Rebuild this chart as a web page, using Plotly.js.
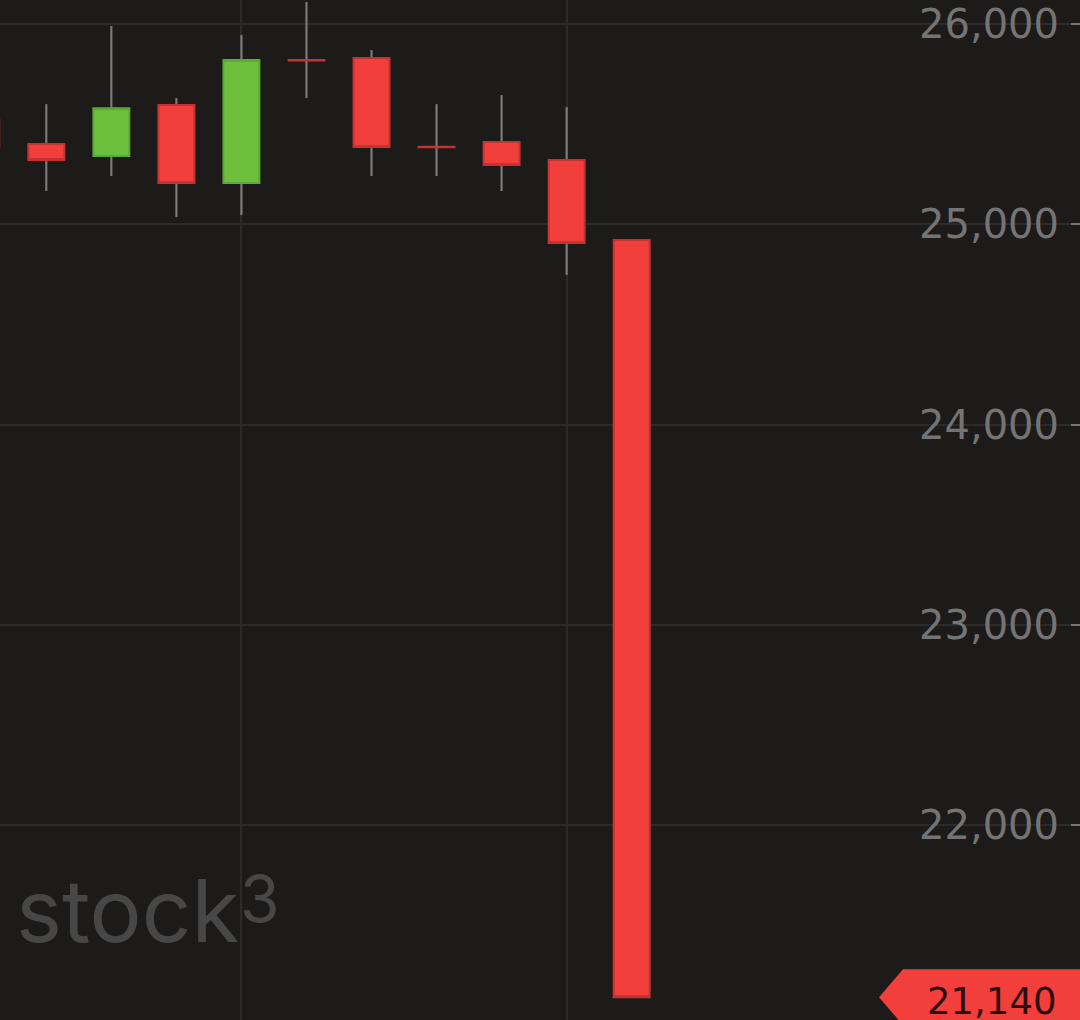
<!DOCTYPE html>
<html>
<head>
<meta charset="utf-8">
<script src="https://cdn.plot.ly/plotly-3.0.1.min.js"></script>
<style>
  html, body { margin: 0; padding: 0; background: #1c1b1a; }
  #chart { width: 1080px; height: 1020px; }
</style>
</head>
<body>
<div id="chart"></div>
<script>
// Candle index (time order)
const candleIndex = [0, 1, 2, 3, 4, 5, 6, 7, 8, 9, 10];
const openValues  = [25521, 25401, 25341, 25595, 25206, 25820, 25830, 25387, 25411, 25321, 24921];
const highValues  = [25560, 25600, 25990, 25630, 25945, 26110, 25870, 25600, 25645, 25585, 24921];
const lowValues   = [25340, 25166, 25241, 25036, 25046, 25630, 25241, 25241, 25166, 24747, 21140];
const closeValues = [25386, 25321, 25580, 25206, 25820, 25818, 25386, 25385, 25296, 24906, 21140];
const gridCandles = [4, 9];
const priceTicks = [22000, 23000, 24000, 25000, 26000];
const lastPrice = 21140;
const lastPriceLabel = "21,140";
const watermarkWord = "stock";
const watermarkSup = "3";

const bodyHigh = openValues.map((o, i) => Math.max(o, closeValues[i]));
const bodyLow  = openValues.map((o, i) => Math.min(o, closeValues[i]));
const wickLen  = highValues.map((h, i) => h - lowValues[i]);

const wicks = {
  type: 'bar',
  x: candleIndex,
  base: lowValues,
  y: wickLen,
  width: 0.033,
  marker: { color: '#7c7c7c', line: { width: 0 } },
  hoverinfo: 'skip',
  showlegend: false
};

const bodies = {
  type: 'candlestick',
  x: candleIndex,
  open: openValues,
  high: bodyHigh,
  low: bodyLow,
  close: closeValues,
  increasing: { fillcolor: '#6dc03b', line: { color: '#5ca83a', width: 2 } },
  decreasing: { fillcolor: '#f23f3b', line: { color: '#c43232', width: 2 } },
  whiskerwidth: 0,
  hoverinfo: 'skip',
  showlegend: false
};

const layout = {
  width: 1080,
  height: 1020,
  margin: { l: 0, r: 0, t: 0, b: 0, pad: 0 },
  paper_bgcolor: '#1c1b1a',
  plot_bgcolor: '#1c1b1a',
  showlegend: false,
  boxgap: 0.447,
  boxgroupgap: 0,
  xaxis: {
    range: [0.288, 16.893],
    tickvals: gridCandles,
    showticklabels: false,
    ticks: '',
    showgrid: true,
    gridcolor: '#2b2b2b',
    gridwidth: 2,
    zeroline: false,
    showline: false,
    rangeslider: { visible: false },
    fixedrange: true
  },
  yaxis: {
    side: 'right',
    range: [21026, 26120],
    tickvals: priceTicks,
    tickformat: ',d',
    ticklabelposition: 'inside',
    ticks: 'inside',
    ticklen: 9,
    tickwidth: 2,
    tickcolor: '#777777',
    ticklabelstandoff: 17,
    tickfont: { family: 'DejaVu Sans', size: 40, color: '#747474' },
    showgrid: true,
    gridcolor: '#2b2b2b',
    gridwidth: 2,
    zeroline: false,
    showline: false,
    fixedrange: true
  },
  shapes: [{
    type: 'path',
    xref: 'paper',
    yref: 'y',
    ysizemode: 'pixel',
    yanchor: lastPrice,
    path: 'M 0.8139,0 L 0.8361,28 L 1,28 L 1,-28 L 0.8361,-28 Z',
    fillcolor: '#f23f3b',
    line: { width: 0 },
    layer: 'above'
  }],
  annotations: [
    {
      xref: 'paper', yref: 'y',
      x: 0.9796, y: lastPrice,
      xanchor: 'right', yanchor: 'middle',
      yshift: -4,
      text: lastPriceLabel,
      showarrow: false,
      font: { family: 'DejaVu Sans', size: 37, color: '#2a0d0d' }
    },
    {
      xref: 'paper', yref: 'paper',
      x: 0.0130, y: 0.107,
      xanchor: 'left', yanchor: 'middle',
      text: watermarkWord,
      showarrow: false,
      font: { family: 'Inter', size: 87, color: '#474747' }
    },
    {
      xref: 'paper', yref: 'paper',
      x: 0.2200, y: 0.1195,
      xanchor: 'left', yanchor: 'middle',
      text: watermarkSup,
      showarrow: false,
      font: { family: 'Inter', size: 64, color: '#474747' }
    }
  ]
};

Plotly.newPlot('chart', [wicks, bodies], layout, { displayModeBar: false, staticPlot: true });
</script>
</body>
</html>
